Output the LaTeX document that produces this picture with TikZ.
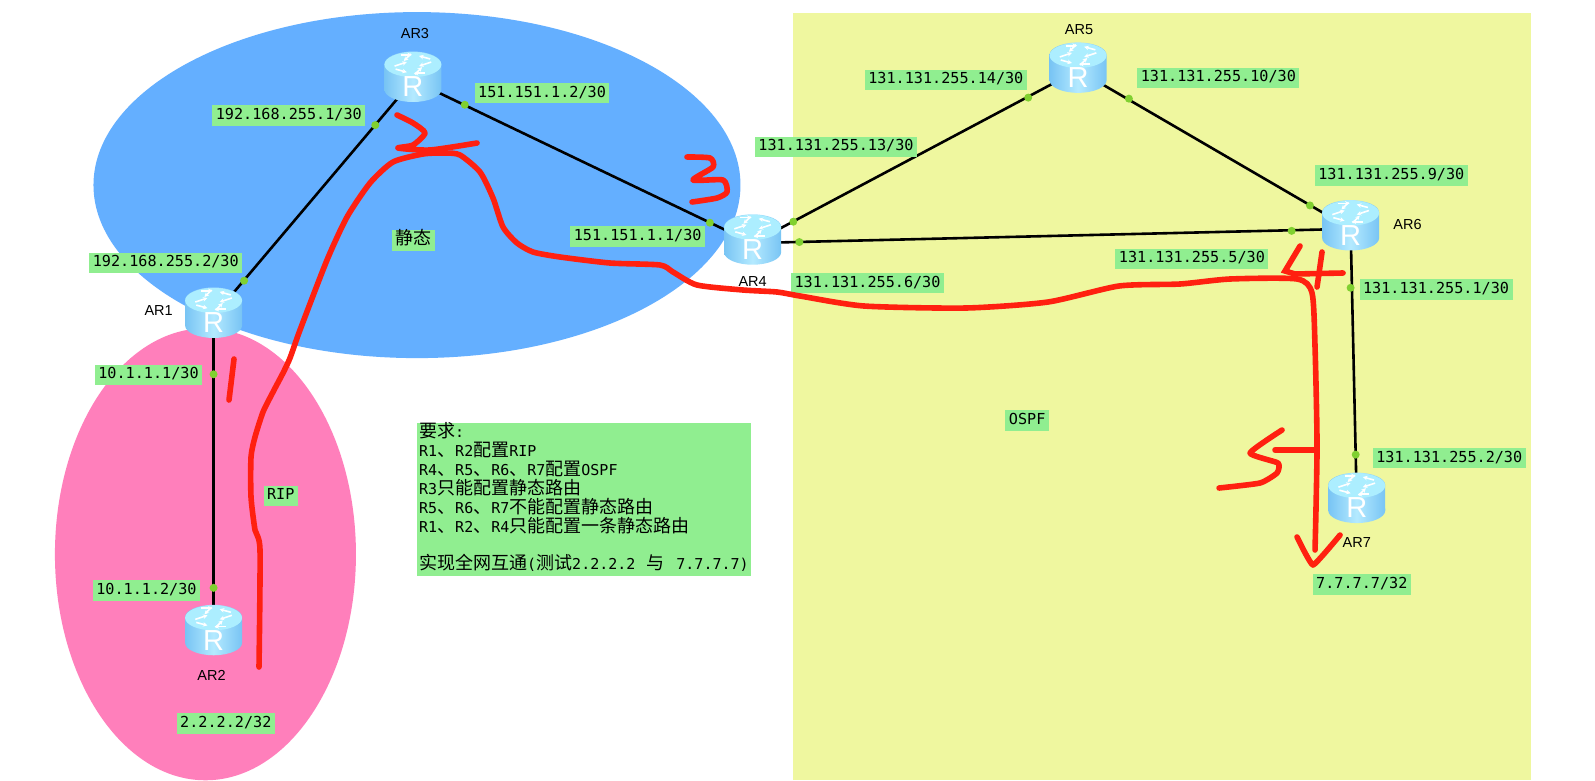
\documentclass[tikz,border=0pt]{standalone}
\usepackage{fontspec}
\setmainfont{Liberation Sans}
\newfontfamily\monof{DejaVu Sans Mono}
\newfontfamily\cjk{Noto Sans CJK SC}
\usetikzlibrary{arrows.meta}
\definecolor{zoneblue}{HTML}{64AFFF}
\definecolor{zonepink}{HTML}{FF7FBB}
\definecolor{zoneyellow}{HTML}{EFF79F}
\definecolor{lblgreen}{HTML}{90EE90}
\definecolor{pen}{HTML}{FF2010}
\definecolor{portdot}{HTML}{80D030}
\definecolor{bodyedge}{HTML}{78C4F4}
\definecolor{bodymid}{HTML}{B4EAFF}
\definecolor{bodytop}{HTML}{ACEEFF}
\newcommand{\Z}[1]{{\fontsize{18}{19}\cjk #1}}
\tikzset{
  x=1.017pt,y=-1.017pt,
  iface/.style={fill=lblgreen,inner xsep=3.5pt,inner ysep=0pt,text height=11pt,text depth=3pt,minimum height=20.5pt,font=\monof\fontsize{15.15}{19}\selectfont},
  devname/.style={font=\fontsize{14.5}{16}\selectfont,inner sep=0pt},
  anchorbox/.style={minimum width=57pt,minimum height=50pt,inner sep=0pt},
  wire/.style={draw=black,line width=2.6pt},
  portmark/.style={circle,fill=portdot,inner sep=0pt,minimum size=8pt},
  ink/.style={draw=pen,line width=5.6pt,line cap=round,line join=round},
  pics/routericon/.style={code={
    \shade[left color=bodyedge,right color=bodyedge,middle color=bodymid,shading angle=90]
      (-28,-13) -- (-28,12) arc[start angle=180,end angle=360,x radius=28.5pt,y radius=12.5pt]
      -- (28,-13) arc[start angle=0,end angle=180,x radius=28.5pt,y radius=12.5pt] -- cycle;
    \fill[bodytop] (0,-12.5) ellipse[x radius=28.5pt,y radius=12.5pt];
    \begin{scope}[white,line width=1.6pt,-{Stealth[length=4.5pt,width=4.5pt]}]
      \draw (-18,-11) -- (-6,-15);
      \draw (-2,-23) -- (-9,-16);
      \draw (-12,-22) -- (-1,-22);
      \draw (18,-15) -- (6,-11);
      \draw (2,-3) -- (9,-10);
      \draw (12,-4) -- (1,-4);
      \draw (-17,-8) -- (-6,-5);
      \draw (17,-18) -- (6,-21);
    \end{scope}
    \node[text=white,inner sep=0pt,font=\fontsize{29}{30}\selectfont] (r) at (0,9.5) {R};
  }},
}
\begin{document}
\begin{tikzpicture}
\useasboundingbox (0,0) rectangle (1568.3,767);
\fill[white] (0,0) rectangle (1568.3,767);
% zones
\fill[zoneyellow] (780,13) rectangle (1505,767);
\fill[zoneblue] (410,182) ellipse[x radius=323.5pt,y radius=173pt];
\fill[zonepink] (202,545) ellipse[x radius=150.5pt,y radius=226pt];

% router anchors
\node[anchorbox] (ar1) at (210,311) {};
\node[anchorbox] (ar2) at (210,622) {};
\node[anchorbox] (ar3) at (406,79) {};
\node[anchorbox] (ar4) at (740,239) {};
\node[anchorbox] (ar5) at (1060,69) {};
\node[anchorbox] (ar6) at (1328,225) {};
\node[anchorbox] (ar7) at (1334,492) {};

% links
\draw[wire] (ar1.center) -- (ar3.center);
\draw[wire] (ar1.center) -- (ar2.center);
\draw[wire] (ar3.center) -- (ar4.center);
\draw[wire] (ar4.center) -- (ar5.center);
\draw[wire] (ar4.center) -- (ar6.center);
\draw[wire] (ar5.center) -- (ar6.center);
\draw[wire] (ar6.center) -- (ar7.center);

% ports
\foreach \n/\p in {p1/{369,123},p2/{457,103},p3/{240,276},p4/{210,368},p5/{210,578},p6/{698,219},p7/{780,218},p8/{786,238},p9/{1011,96},p10/{1110,97},p11/{1288,202},p12/{1270,227},p13/{1328,283},p14/{1333,447}}
  \node[portmark] (\n) at (\p) {};

% routers
\pic (i1) at (210,308) {routericon};
\pic (i2) at (210,620) {routericon};
\pic (i3) at (406,76) {routericon};
\pic (i4) at (740,236) {routericon};
\pic (i5) at (1060,67) {routericon};
\pic (i6) at (1328,222) {routericon};
\pic (i7) at (1334,490) {routericon};

% router names
\node[devname] (n1) at (156,305) {AR1};
\node[devname] (n2) at (208,664) {AR2};
\node[devname] (n3) at (408,33) {AR3};
\node[devname] (n4) at (740,277) {AR4};
\node[devname] (n5) at (1061,29) {AR5};
\node[devname] (n6) at (1384,221) {AR6};
\node[devname] (n7) at (1334,533) {AR7};

% interface labels
\node[iface] (l1) at (284,113.5) {192.168.255.1/30};
\node[iface] (l2) at (533,91.5) {151.151.1.2/30};
\node[iface] (l3) at (163,258.5) {192.168.255.2/30};
\node[iface] (l4) at (146,368.5) {10.1.1.1/30};
\node[iface] (l5) at (144,580.5) {10.1.1.2/30};
\node[iface] (l6) at (222,711.5) {2.2.2.2/32};
\node[iface] (l7) at (627,232.5) {151.151.1.1/30};
\node[iface] (l8) at (822,144.5) {131.131.255.13/30};
\node[iface] (l9) at (930,78.5) {131.131.255.14/30};
\node[iface] (l10) at (1198,76.5) {131.131.255.10/30};
\node[iface] (l11) at (1368,172.5) {131.131.255.9/30};
\node[iface] (l12) at (1172,254.5) {131.131.255.5/30};
\node[iface] (l13) at (853,278.5) {131.131.255.6/30};
\node[iface] (l14) at (1412,284.5) {131.131.255.1/30};
\node[iface] (l15) at (1425,450.5) {131.131.255.2/30};
\node[iface] (l16) at (1339,574.5) {7.7.7.7/32};
\node[iface] (l17) at (407,236.5) {\Z{静态}};
\node[iface] (l18) at (276,487.5) {RIP};
\node[iface] (l19) at (1010,413.5) {OSPF};

% requirements box
\node[anchor=north west,fill=lblgreen,inner sep=0pt,minimum width=334pt,minimum height=153pt] (reqbg) at (410,416) {};
\node[anchor=west,inner xsep=2pt,inner ysep=0pt,align=left,font=\monof\fontsize{15}{18.9}\selectfont] (req) at ([yshift=2.5pt]reqbg.west) {%
\Z{要求}:\\
R1\Z{、}R2\Z{配置}RIP\\
R4\Z{、}R5\Z{、}R6\Z{、}R7\Z{配置}OSPF\\
R3\Z{只能配置静态路由}\\
R5\Z{、}R6\Z{、}R7\Z{不能配置静态路由}\\
R1\Z{、}R2\Z{、}R4\Z{只能配置一条静态路由}\\
\mbox{}\\
\Z{实现全网互通}(\Z{测试}2.2.2.2\hspace*{11pt}\Z{与}\hspace*{12pt}7.7.7.7)};

% hand-drawn strokes (pixel coordinates)
\begin{scope}[x=1pt,y=-1pt]
\draw[ink] plot[smooth,tension=0.4] coordinates {(259,667)(260,550)(255,530)(251,497)(251,457)(255,437)(263,412)(273,392)(283,373)(290,358)(300,330)(327,260)(347,217)(370,183)(393,162)(423,154)(445,153)(460,155)(480,172)(493,198)(503,227)(517,243)(533,252)(560,257)(610,263)(660,265)(673,272)(697,285)(743,290)(777,292)(800,296)(864,306)(966,308)(1048,302)(1119,286)(1180,284)(1230,279)(1297,279)(1312,293)(1315,347)(1317,447)(1315,550)};
\draw[ink] plot[smooth,tension=0.4] coordinates {(397,115)(413,123)(425,133)(413,145)(398,148)(430,150)(477,143)};
\draw[ink] (234,359) -- (229,400);
\draw[ink] plot[smooth,tension=0.4] coordinates {(687,157)(710,158)(713,167)(693,180)(723,180)(727,192)(717,198)(692,202)};
\draw[ink,line join=miter] (1300,246) -- (1285,271) -- (1295,274) -- (1343,273);
\draw[ink] (1322,252) -- (1317,287);
\draw[ink] plot[smooth,tension=0.3] coordinates {(1282,430)(1250,453)(1278,463)(1277,473)(1260,483)(1219,488)};
\draw[ink] (1275,450) -- (1315,450);
\draw[ink] plot[smooth,tension=0.2] coordinates {(1297,537)(1313,565)(1340,535)};
\end{scope}
\end{tikzpicture}
\end{document}
